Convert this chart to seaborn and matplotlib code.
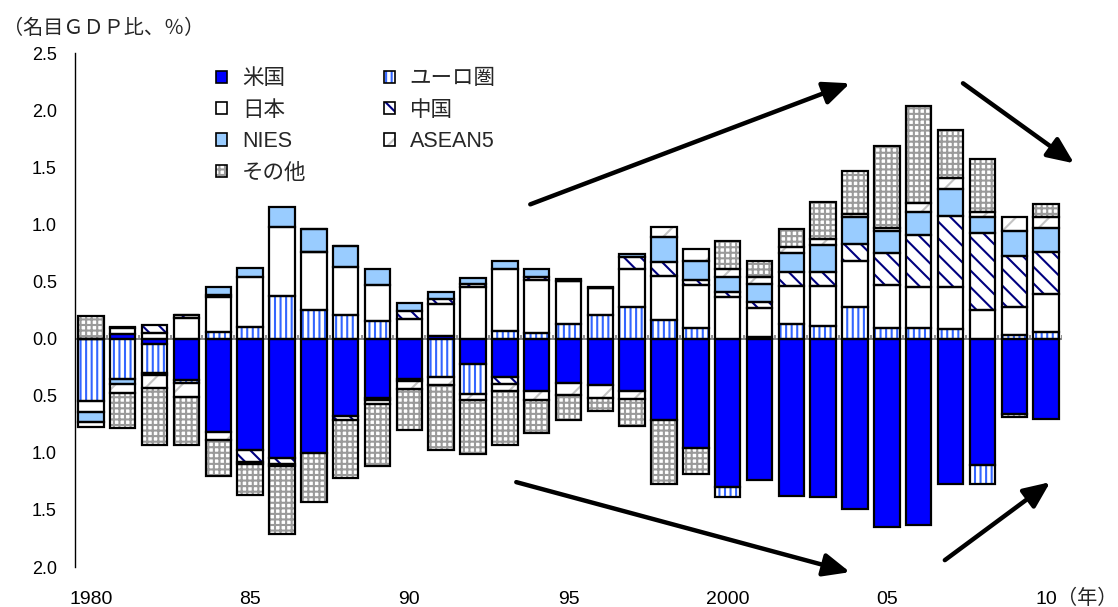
import numpy as np
import pandas as pd
import matplotlib
matplotlib.use("Agg")
import matplotlib.pyplot as plt
import matplotlib.patches as mpatches
from matplotlib.legend_handler import HandlerTuple
import seaborn as sns

# Current-account balances by region, % of world nominal GDP (1980-2010)
years = [str(y) for y in range(1980, 2011)]
tick_positions = [0, 5, 10, 15, 20, 25, 30]
tick_labels = ["1980", "85", "90", "95", "2000", "05", "10"]

us = [0.0, 0.04, -0.05, -0.36, -0.82, -0.98, -1.05, -1.00, -0.68, -0.52,
      -0.35, 0.02, -0.225, -0.335, -0.46, -0.39, -0.41, -0.46, -0.71, -0.96,
      -1.30, -1.24, -1.38, -1.39, -1.49, -1.65, -1.63, -1.275, -1.11, -0.66,
      -0.70]
euro = [-0.55, -0.35, -0.25, -0.025, 0.06, 0.10, 0.37, 0.25, 0.21, 0.15,
        -0.02, -0.335, -0.26, 0.065, 0.045, 0.125, 0.21, 0.28, 0.16, 0.095,
        -0.09, 0.01, 0.125, 0.11, 0.28, 0.095, 0.095, 0.08, -0.165, 0.03,
        0.06]
japan = [-0.09, 0.05, 0.045, 0.18, 0.30, 0.44, 0.61, 0.51, 0.42, 0.32,
         0.175, 0.28, 0.45, 0.54, 0.47, 0.38, 0.23, 0.325, 0.39, 0.37,
         0.36, 0.26, 0.335, 0.35, 0.40, 0.37, 0.355, 0.37, 0.25, 0.25,
         0.33]
china = [0.0, 0.01, 0.07, 0.03, 0.02, -0.10, -0.05, 0.0, -0.03, -0.02,
         0.07, 0.05, 0.03, -0.06, 0.025, 0.0, 0.0, 0.11, 0.12, 0.05,
         0.05, 0.05, 0.12, 0.12, 0.15, 0.285, 0.46, 0.625, 0.675, 0.445,
         0.365]
nies = [-0.09, -0.05, -0.02, 0.0, 0.07, 0.08, 0.17, 0.20, 0.18, 0.14,
        0.07, 0.06, 0.05, 0.07, 0.07, 0.015, 0.01, 0.025, 0.22, 0.165,
        0.13, 0.155, 0.17, 0.24, 0.235, 0.19, 0.20, 0.235, 0.14, 0.215,
        0.215]
asean5 = [-0.04, -0.075, -0.11, -0.13, -0.07, -0.02, -0.02, 0.0, 0.0, -0.03,
          -0.07, -0.07, -0.05, -0.065, -0.08, -0.10, -0.11, -0.065, 0.09, 0.10,
          0.07, 0.065, 0.05, 0.05, 0.025, 0.03, 0.08, 0.10, 0.045, 0.125,
          0.09]
others = [0.20, -0.305, -0.50, -0.42, -0.31, -0.27, -0.59, -0.43, -0.51, -0.55,
          -0.36, -0.575, -0.48, -0.475, -0.29, -0.22, -0.11, -0.24, -0.56, -0.225,
          0.24, 0.135, 0.16, 0.325, 0.38, 0.72, 0.85, 0.415, 0.46, -0.025,
          0.12]

series_names = ["米国", "ユーロ圏", "日本", "中国", "NIES", "ASEAN5", "その他"]
series_values = [us, euro, japan, china, nies, asean5, others]

# fill colour, hatch pattern, hatch colour
styles = {
    "米国": ("#0000FF", None, "#0000FF"),
    "ユーロ圏": ("white", "|||", "#3366FF"),
    "日本": ("white", None, "white"),
    "中国": ("white", "\\\\", "#000080"),
    "NIES": ("#99CCFF", None, "#99CCFF"),
    "ASEAN5": ("white", "/", "#C4C4C4"),
    "その他": ("white", "+++", "#9A9A9A"),
}

sns.set_style("white")
plt.rcParams["font.family"] = ["Liberation Sans", "Noto Sans CJK JP"]
plt.rcParams["axes.unicode_minus"] = False
plt.rcParams["hatch.linewidth"] = 1.5

fig = plt.figure(figsize=(11.18, 6.07), dpi=100)
ax = fig.add_axes([75 / 1118, 40 / 607, 987 / 1118, 514 / 607])

n = len(years)
pos_base = np.zeros(n)
neg_base = np.zeros(n)
legend_handles = {}
for name, vals in zip(series_names, series_values):
    v = np.asarray(vals, dtype=float)
    bottom = np.where(v >= 0, pos_base, neg_base)
    df = pd.DataFrame({"year": years, "value": v})
    face, hatch, hcolor = styles[name]
    # hatched/filled body of each segment
    sns.barplot(data=df, x="year", y="value", order=years, ax=ax,
                width=0.8, errorbar=None, color=hcolor, bottom=bottom,
                facecolor=face, edgecolor=hcolor, hatch=hatch,
                linewidth=0, zorder=2)
    # black outline of each segment
    sns.barplot(data=df, x="year", y="value", order=years, ax=ax,
                width=0.8, errorbar=None, color="black", bottom=bottom,
                facecolor="none", edgecolor="black", linewidth=1.6, zorder=3)
    fill_h = mpatches.Patch(facecolor=face, edgecolor=hcolor,
                            hatch=hatch, linewidth=0)
    edge_h = mpatches.Patch(facecolor="none", edgecolor="black", linewidth=1.2)
    legend_handles[name] = (fill_h, edge_h)
    pos_base += np.clip(v, 0, None)
    neg_base += np.clip(v, None, 0)

# zero line with short category ticks between bars
ax.axhline(0, color="#808080", lw=1.3, zorder=1.5)
ax.vlines(np.arange(-0.5, n, 1.0), 0, 0.035, color="#808080", lw=1.2, zorder=1.5)

ax.set_xlim(-0.5, n - 0.5)
ax.set_ylim(-2.0, 2.5)
yt = np.arange(-2.0, 2.51, 0.5)
ax.set_yticks(yt)
ax.set_yticklabels([f"{abs(t):.1f}" for t in yt], fontsize=13)
ax.set_xticks(tick_positions)
ax.set_xticklabels(tick_labels, fontsize=14)
ax.set_xlabel("")
ax.set_ylabel("")
ax.tick_params(axis="y", direction="in", length=4, width=1, pad=13, colors="black")
ax.tick_params(axis="x", length=0, pad=17, colors="black")
for side in ["top", "right", "bottom"]:
    ax.spines[side].set_visible(False)
ax.spines["left"].set_color("black")
ax.spines["left"].set_linewidth(1.0)

order = ["米国", "日本", "NIES", "その他", "ユーロ圏", "中国", "ASEAN5"]
leg = ax.legend([legend_handles[k] for k in order], order,
                handler_map={tuple: HandlerTuple(ndivide=1)},
                ncol=2, loc="upper left", bbox_to_anchor=(0.143, 0.970),
                frameon=False, fontsize=15.5, handlelength=0.5, handleheight=0.5,
                handletextpad=0.7, columnspacing=3.6, labelspacing=0.48,
                borderpad=0, borderaxespad=0)

# trend arrows
arrow_kw = dict(arrowstyle="-|>,head_length=0.8,head_width=0.35", lw=3.2,
                color="black", mutation_scale=20, shrinkA=0, shrinkB=0)
arrows = [((13.8, 1.175), (23.84, 2.235)),
          ((27.39, 2.235), (30.88, 1.534)),
          ((13.36, -1.257), (23.84, -2.045)),
          ((26.82, -1.94), (30.13, -1.257))]
for start, end in arrows:
    ax.annotate("", xy=end, xytext=start, xycoords="data", textcoords="data",
                arrowprops=arrow_kw, annotation_clip=False)

fig.text(3 / 1118, 1 - 28 / 607, "（名目ＧＤＰ比、％）", fontsize=14.5,
         family=["Noto Sans CJK JP"], va="center", ha="left")
fig.text(1117 / 1118, 1 - 598 / 607, "（年）", fontsize=14.5,
         family=["Noto Sans CJK JP"], va="center", ha="right")

fig.savefig("out.png", dpi=100)
